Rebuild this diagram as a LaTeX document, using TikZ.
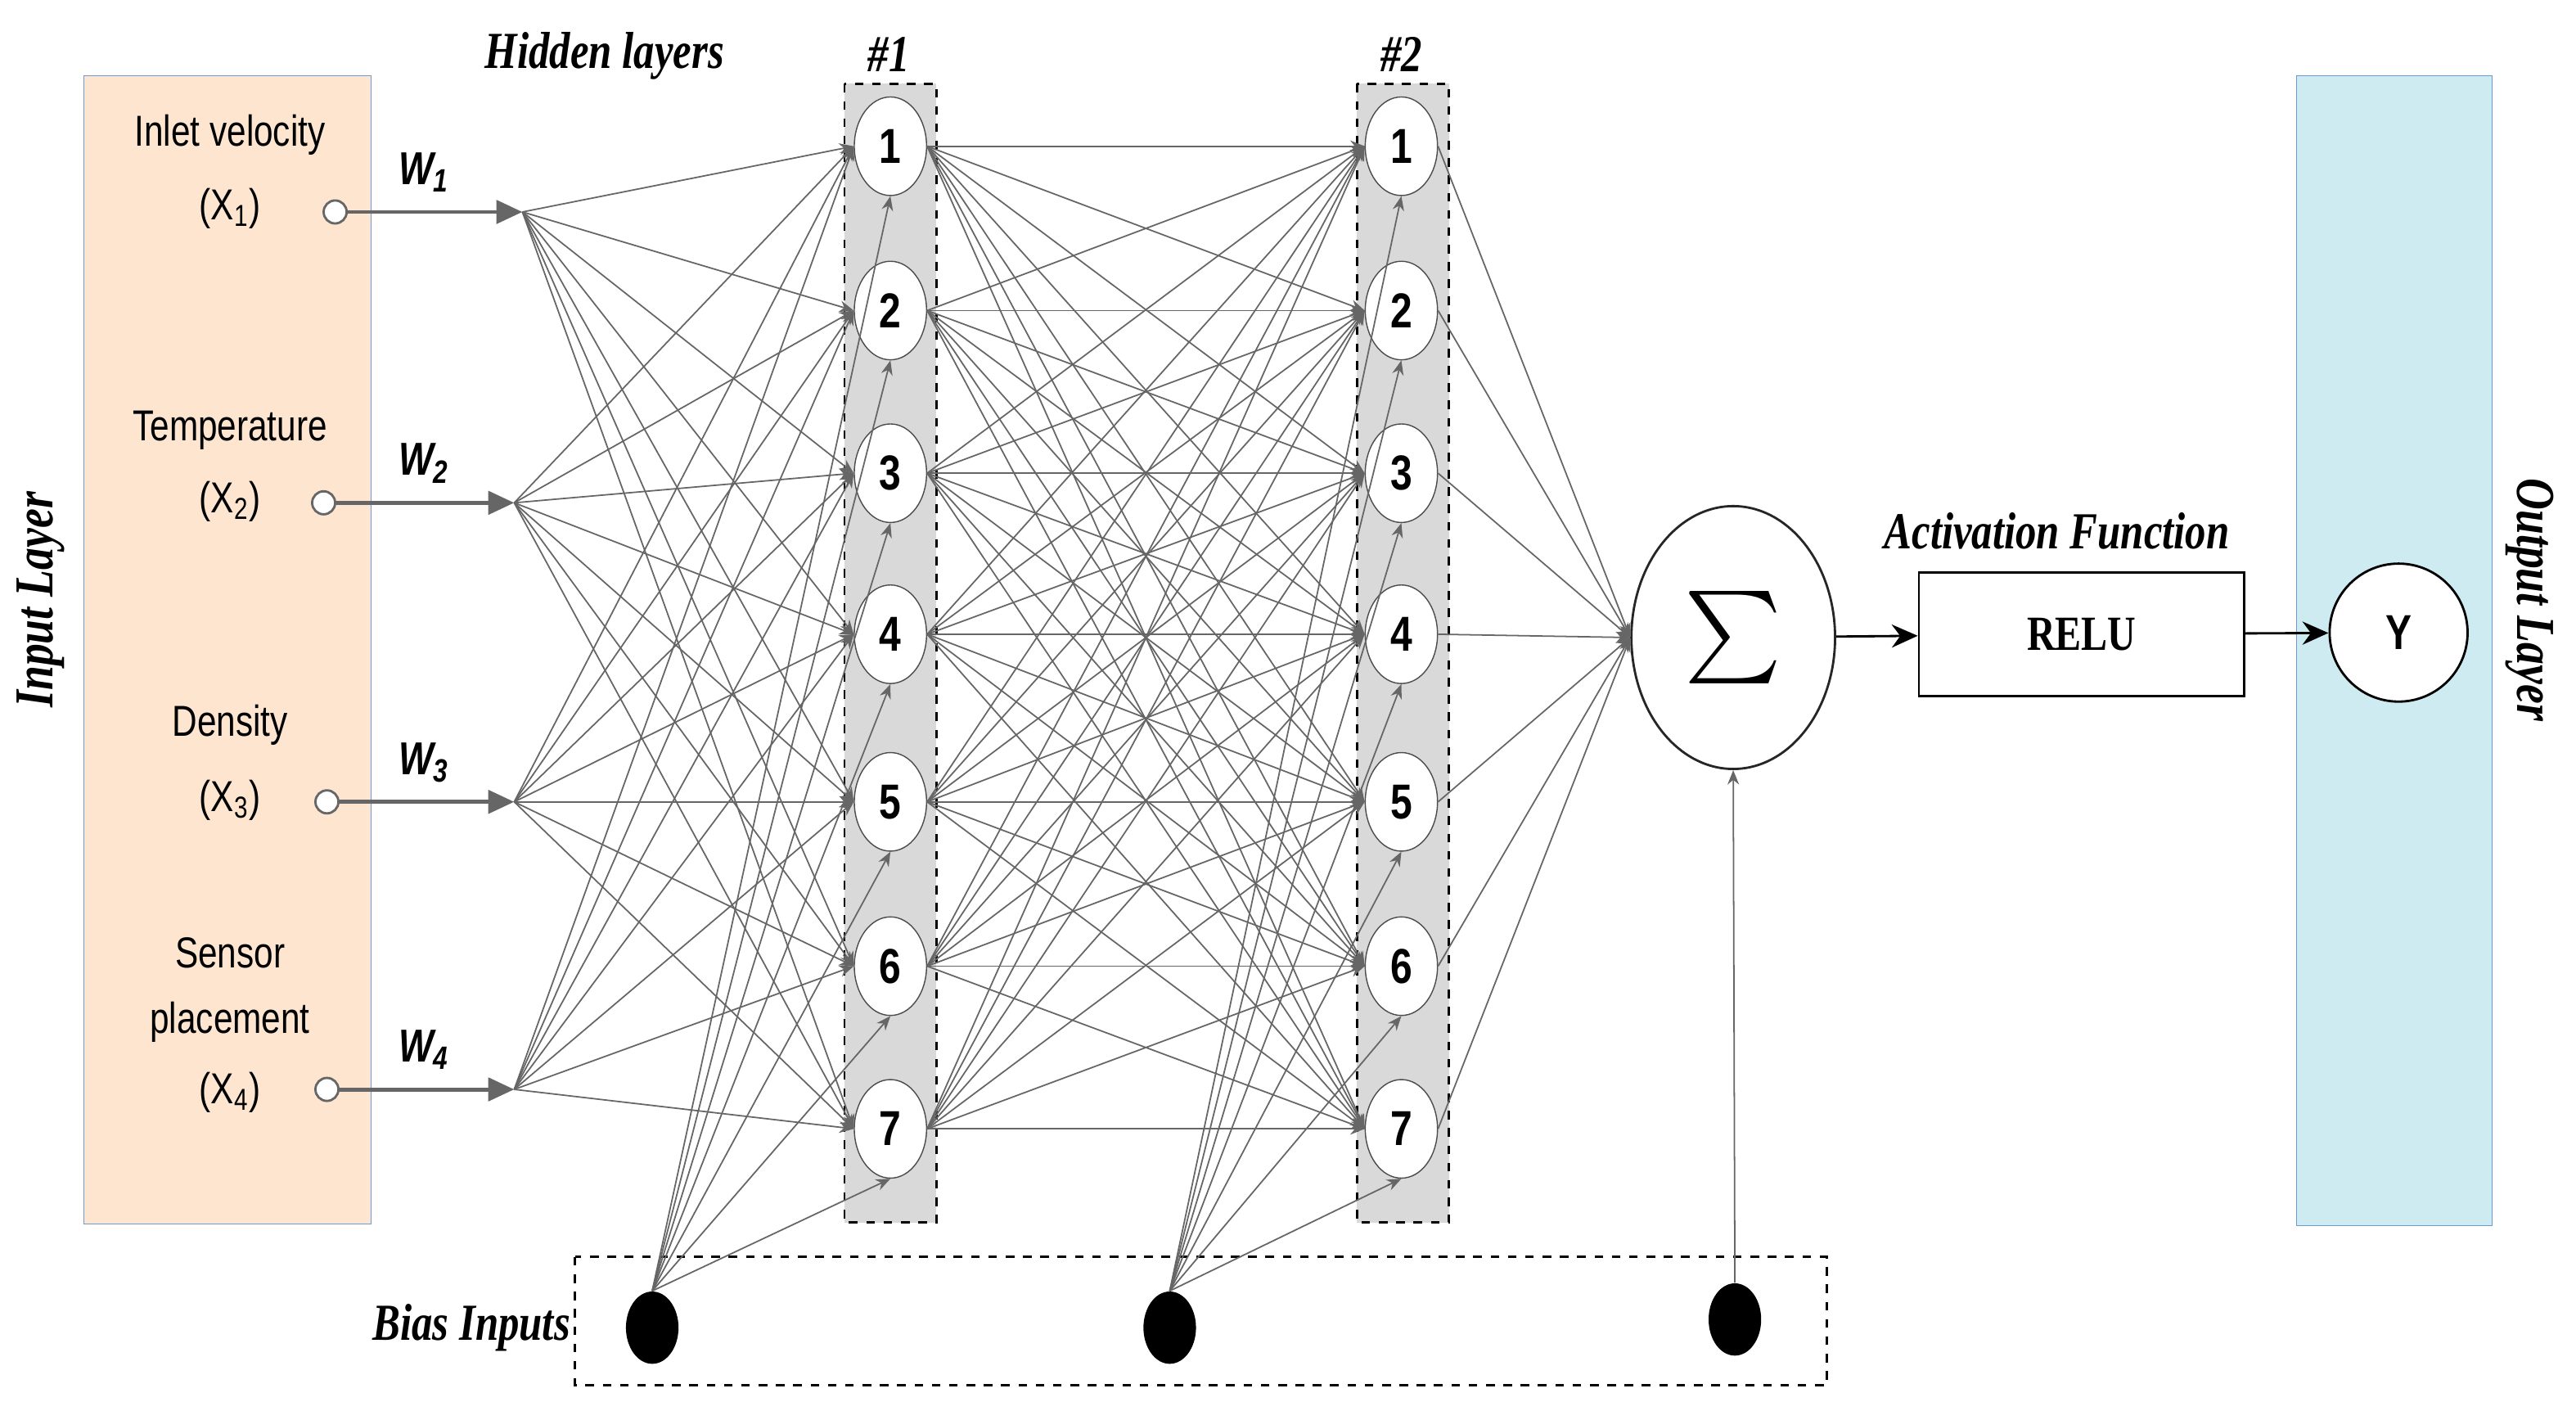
\documentclass[tikz,border=0pt]{standalone}
\usepackage{graphicx}
\usepackage{fontspec}
\setmainfont{Liberation Sans}
\newfontfamily\nar{Liberation Sans}[FakeStretch=0.8]
\newfontfamily\seri{Liberation Serif}[FakeStretch=0.8]
\usetikzlibrary{shapes.geometric,arrows.meta}
\definecolor{peach}{HTML}{FDE5D0}
\definecolor{lblue}{HTML}{CDEBF1}
\definecolor{bord}{HTML}{6C9BD2}
\definecolor{lin}{HTML}{666666}
\begin{document}
\begin{tikzpicture}[x=0.02cm,y=-0.02cm,
  conn/.style={draw=lin,line width=0.5pt,-{Stealth[length=5pt,width=4pt]}},
  neu/.style={ellipse,draw=black!70,fill=white,minimum width=0.88cm,minimum height=1.2cm,inner sep=0pt,font=\nar\bfseries\fontsize{17}{17}\selectfont},
  lab/.style={font=\nar\fontsize{15}{15}\selectfont},
  wl/.style={font=\nar\bfseries\itshape\fontsize{16}{16}\selectfont},
  it/.style={font=\seri\bfseries\itshape\fontsize{18}{18}\selectfont},
  bias/.style={ellipse,fill=black,minimum width=0.64cm,minimum height=0.88cm,inner sep=0pt}]
\useasboundingbox (0,0) rectangle (1568,864);
% boxes
\draw[bord,fill=peach] (51,46) rectangle (226,745);
\draw[bord,fill=lblue] (1398,46) rectangle (1517,746);
\node[it,rotate=90,font=\seri\bfseries\itshape\fontsize{19}{19}\selectfont] (inl) at (25,365) {Input Layer};
\node[it,rotate=-90,font=\seri\bfseries\itshape\fontsize{19}{19}\selectfont] (outl) at (1540,365) {Output Layer};
\fill[gray!30] (514,51) rectangle (570,744);
\draw[dashed,line width=0.8pt] (514,51) rectangle (570,744);
\fill[gray!30] (826,51) rectangle (882,744);
\draw[dashed,line width=0.8pt] (826,51) rectangle (882,744);
\draw[dashed,line width=0.8pt] (350,765) rectangle (1112,843);
\node[it] (hl) at (368,34) {Hidden layers};
\node[it] (h1) at (541,33) {\#1};
\node[it] (h2) at (853,33) {\#2};
\node[it] (bi) at (287,808) {Bias Inputs};
\node[it] (af) at (1252,323) {Activation Function};
% inputs
\node[lab] (t1) at (140,82) {Inlet velocity};
\node[lab] (x1) at (140,127) {(X\textsubscript{1})};
\node[lab] (t2) at (140,262) {Temperature};
\node[lab] (x2) at (140,305) {(X\textsubscript{2})};
\node[lab] (t3) at (140,441) {Density};
\node[lab] (x3) at (140,487) {(X\textsubscript{3})};
\node[lab] (t4a) at (140,580) {Sensor};
\node[lab] (t4b) at (140,622) {placement};
\node[lab] (x4) at (140,665) {(X\textsubscript{4})};
\foreach \i/\cx/\y/\fx in {1/204/129/318,2/197/306/313,3/199/488/313,4/199/663/313}{
  \node[circle,draw=black!60,line width=0.8pt,fill=white,minimum size=0.28cm,inner sep=0pt] (c\i) at (\cx,\y) {};
  \coordinate (f\i) at (\fx,\y);
  \draw[lin,line width=1.4pt,-{Triangle[length=9pt,width=8pt]}] (c\i) -- (f\i);
  \node[wl] (w\i) at (258,\y-24) {W\textsubscript{\i}};
}
% neurons
\foreach \j/\y in {1/89,2/189,3/288,4/386,5/488,6/588,7/687}{
  \node[neu] (a\j) at (542,\y) {\j};
  \node[neu] (b\j) at (853,\y) {\j};
}
\node[ellipse,draw=black!85,line width=0.8pt,fill=white,minimum width=2.48cm,minimum height=3.2cm,inner sep=0pt] (sig) at (1055,388) {\scalebox{3.2}{$\sum$}};
\node[draw,line width=0.8pt,minimum width=3.96cm,minimum height=1.5cm,font=\seri\bfseries\fontsize{17}{17}\selectfont] (relu) at (1267,386) {RELU};
\node[circle,draw,line width=0.8pt,fill=white,minimum size=1.68cm,font=\nar\bfseries\fontsize{17}{17}\selectfont] (y) at (1460,385) {Y};
\node[bias] (z1) at (397,808) {};
\node[bias] (z2) at (712,808) {};
\node[bias] (z3) at (1056,803) {};
% connections
\foreach \i in {1,...,4}{\foreach \j in {1,...,7}{\draw[conn] (f\i) -- (a\j.west);}}
\foreach \i in {1,...,7}{\foreach \j in {1,...,7}{\draw[conn] (a\i.east) -- (b\j.west);}}
\foreach \j in {1,...,7}{
  \draw[conn] (z1.north) -- (a\j.south);
  \draw[conn] (z2.north) -- (b\j.south);
  \draw[conn] (b\j.east) -- (sig.west);
}
\draw[conn] (z3.north) -- (sig.south);
\draw[line width=0.8pt,-{Stealth[length=9pt,width=8pt]}] (sig) -- (relu);
\draw[line width=0.8pt,-{Stealth[length=9pt,width=8pt]}] (relu) -- (y);
\end{tikzpicture}
\end{document}
